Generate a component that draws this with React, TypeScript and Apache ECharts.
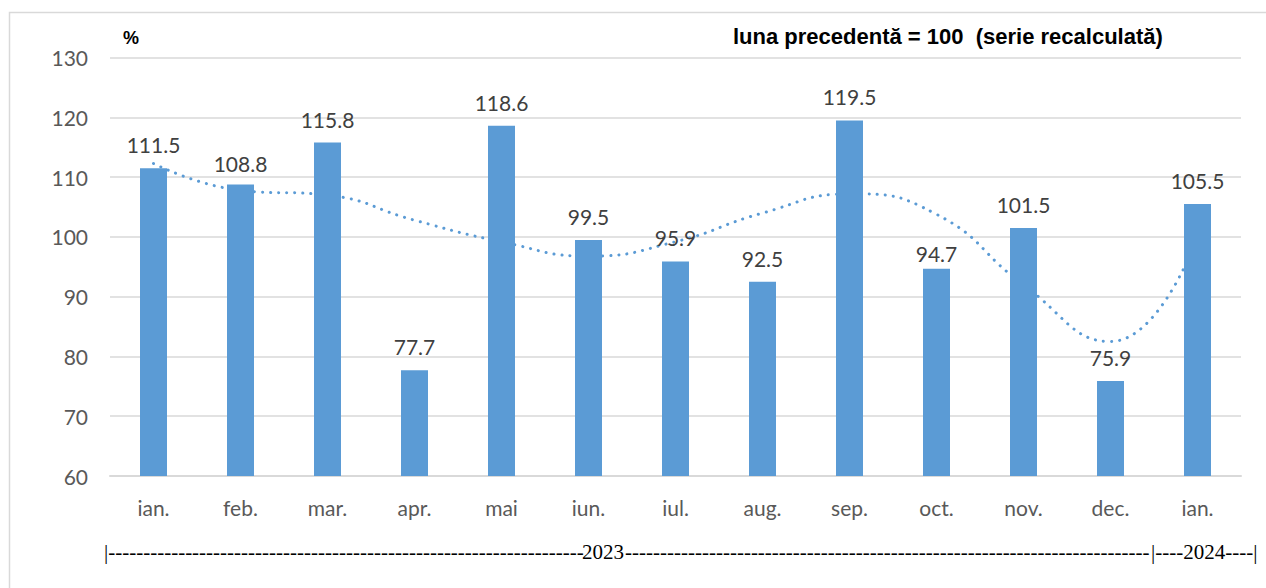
import React, { useEffect, useRef } from "react";
import * as echarts from "echarts";

const categories = ["ian.", "feb.", "mar.", "apr.", "mai", "iun.", "iul.", "aug.", "sep.", "oct.", "nov.", "dec.", "ian."];
const values = [111.5, 108.8, 115.8, 77.7, 118.6, 99.5, 95.9, 92.5, 119.5, 94.7, 101.5, 75.9, 105.5];
const trend = [112.3, 107.8, 107.0, 102.8, 99.2, 96.8, 99.2, 104.0, 107.2, 103.8, 92.0, 82.5, 100.0];
const yTicks = { min: 60, max: 130, interval: 10 };
const unitLabel = "%";
const subtitle = "luna precedentă = 100  (serie recalculată)";
const year1 = "2023";
const year2 = "2024";

const FONT = "Lato, 'Open Sans', sans-serif";

export default function App() {
  const ref = useRef<HTMLDivElement>(null);
  useEffect(() => {
    if (!ref.current) return;
    const chart = echarts.init(ref.current, null, { renderer: "svg" });
    const serif = "'Liberation Serif', 'DejaVu Serif', serif";
    const option = {
      animation: false,
      backgroundColor: "#ffffff",
      grid: { left: 110, right: 25, top: 57.7, bottom: 112 },
      xAxis: {
        type: "category",
        data: categories,
        axisTick: { show: false },
        axisLine: { lineStyle: { color: "#d9d9d9", width: 2 } },
        axisLabel: { color: "#595959", fontFamily: FONT, fontSize: 21, margin: 21 },
      },
      yAxis: {
        type: "value",
        min: yTicks.min,
        max: yTicks.max,
        interval: yTicks.interval,
        axisLine: { show: false },
        axisTick: { show: false },
        splitLine: { lineStyle: { color: "#d9d9d9", width: 1.5 } },
        axisLabel: { color: "#595959", fontFamily: FONT, fontSize: 21, margin: 22 },
      },
      series: [
        {
          type: "line",
          data: trend,
          smooth: 0.5,
          symbol: "none",
          z: 1,
          lineStyle: { color: "#5b9bd5", width: 3, type: [0.1, 8], cap: "round" },
          silent: true,
        },
        {
          type: "bar",
          data: values.map((v, i) => {
            const item: any = { value: v };
            if (i === 9) item.label = { distance: 5 };
            if (i === 1) item.label = { distance: 10 };
            return item;
          }),
          barWidth: 27,
          z: 3,
          itemStyle: { color: "#5b9bd5" },
          label: {
            show: true,
            position: "top",
            distance: 13,
            color: "#404040",
            fontFamily: FONT,
            fontSize: 21,
            formatter: (p: any) => p.value.toFixed(1),
          },
        },
      ],
      graphic: [
        {
          type: "rect",
          silent: true,
          shape: { x: 9.5, y: 12.5, width: 1300, height: 700 },
          style: { fill: "none", stroke: "#d9d9d9", lineWidth: 1.5 },
          z: -1,
        },
        {
          type: "text",
          left: 123,
          top: 29,
          style: { text: unitLabel, font: "bold 18px 'Liberation Sans', Arial, sans-serif", fill: "#000" },
        },
        {
          type: "text",
          left: 733,
          top: 25,
          style: { text: subtitle, font: "bold 22px 'Liberation Sans', Arial, sans-serif", fill: "#000" },
        },
        {
          type: "text",
          left: 104,
          top: 541,
          style: { text: "|" + "-".repeat(68), font: `21px ${serif}`, fill: "#000" },
        },
        {
          type: "text",
          left: 582,
          top: 541,
          style: { text: year1, font: `21px ${serif}`, fill: "#000" },
        },
        {
          type: "text",
          left: 625,
          top: 541,
          style: { text: "-".repeat(75), font: `21px ${serif}`, fill: "#000" },
        },
        {
          type: "text",
          left: 1151,
          top: 541,
          style: { text: "|----" + year2 + "----|", font: `21px ${serif}`, fill: "#000" },
        },
      ],
    };
    chart.setOption(option as any);
    return () => chart.dispose();
  }, []);
  return (
    <div
      ref={ref}
      style={{ position: "absolute", left: 0, top: 0, width: 1266, height: 588 }}
    />
  );
}
